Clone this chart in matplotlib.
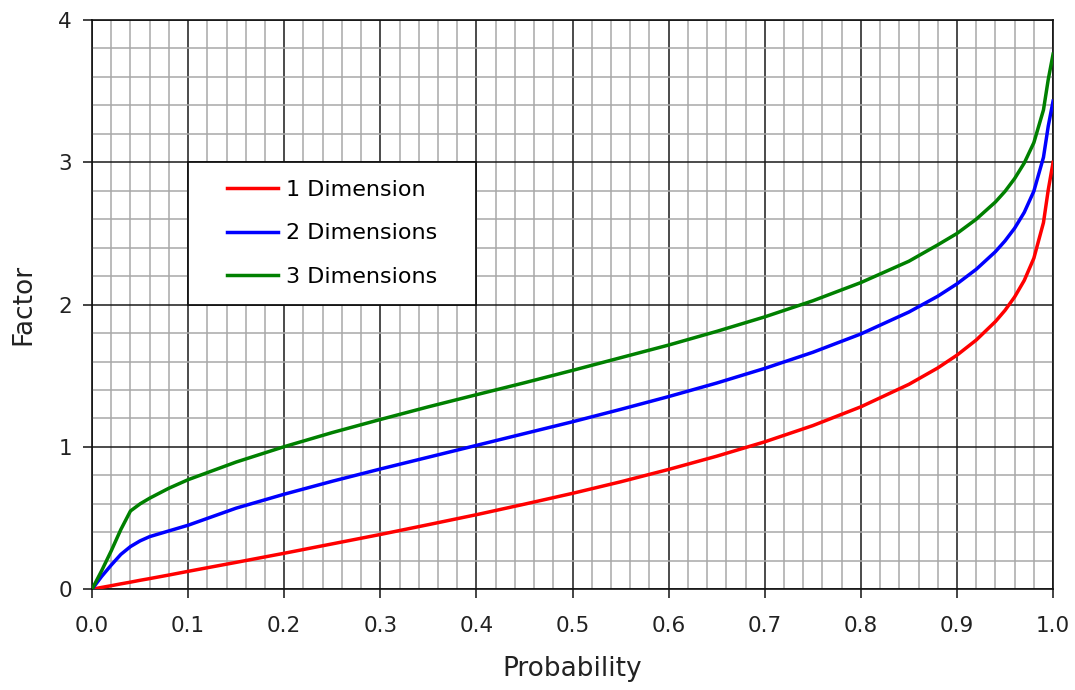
import numpy as np
import matplotlib.pyplot as plt
from matplotlib.patches import Rectangle
from matplotlib.ticker import MultipleLocator, FormatStrFormatter

plt.rcParams['font.family'] = ['DejaVu Sans']

# probability values along the x axis
prob = [0.0, 0.01, 0.02, 0.03, 0.04, 0.05, 0.06, 0.08, 0.10, 0.15, 0.20, 0.25,
        0.30, 0.35, 0.40, 0.45, 0.50, 0.55, 0.60, 0.65, 0.70, 0.75, 0.80, 0.85,
        0.88, 0.90, 0.92, 0.94, 0.95, 0.96, 0.97, 0.98, 0.99, 0.995, 1.0]

# factor for each dimension
factor_1d = [0.0, 0.013, 0.025, 0.038, 0.050, 0.063, 0.075, 0.100, 0.126, 0.189, 0.253, 0.319,
             0.385, 0.454, 0.524, 0.598, 0.674, 0.755, 0.842, 0.935, 1.036, 1.150, 1.282, 1.440,
             1.555, 1.645, 1.751, 1.881, 1.960, 2.054, 2.170, 2.326, 2.576, 2.807, 3.0]
factor_2d = [0.0, 0.09, 0.17, 0.245, 0.30, 0.34, 0.37, 0.41, 0.45, 0.570, 0.668, 0.759,
             0.845, 0.928, 1.011, 1.094, 1.177, 1.264, 1.354, 1.449, 1.552, 1.665, 1.794, 1.948,
             2.059, 2.146, 2.248, 2.372, 2.448, 2.537, 2.648, 2.797, 3.035, 3.255, 3.43]
factor_3d = [0.0, 0.13, 0.27, 0.42, 0.55, 0.60, 0.64, 0.71, 0.77, 0.894, 1.002, 1.101,
             1.193, 1.282, 1.367, 1.451, 1.538, 1.627, 1.716, 1.812, 1.914, 2.027, 2.155, 2.305,
             2.420, 2.500, 2.600, 2.721, 2.796, 2.886, 2.995, 3.138, 3.368, 3.583, 3.76]

labels = ['1 Dimension', '2 Dimensions', '3 Dimensions']
colors = ['#ff0000', '#0000ff', '#008000']

fig = plt.figure(figsize=(10.75, 6.9), dpi=100)
ax = fig.add_axes([0.0856, 0.146, 0.894, 0.825])

handles = []
for y, lab, c in zip([factor_1d, factor_2d, factor_3d], labels, colors):
    h, = ax.plot(prob, y, color=c, lw=2.5, label=lab, zorder=3)
    handles.append(h)

ax.set_xlim(0, 1)
ax.set_ylim(0, 4)
ax.xaxis.set_major_locator(MultipleLocator(0.1))
ax.xaxis.set_minor_locator(MultipleLocator(0.02))
ax.yaxis.set_major_locator(MultipleLocator(1))
ax.yaxis.set_minor_locator(MultipleLocator(0.2))
ax.xaxis.set_major_formatter(FormatStrFormatter('%.1f'))

ax.grid(which='minor', color='#a8a8a8', lw=1.1, zorder=0)
ax.grid(which='major', color='#1a1a1a', lw=1.1, zorder=1)
ax.set_axisbelow(True)

for s in ax.spines.values():
    s.set_color('#111111')
    s.set_linewidth(1.2)

ax.tick_params(which='major', direction='out', length=6.5, width=1.1,
               color='#111111', labelsize=15.5, labelcolor='#222222')
ax.tick_params(axis='x', which='major', pad=13)
ax.tick_params(axis='y', which='major', pad=8)
ax.tick_params(which='minor', length=0)

ax.set_xlabel('Probability', fontsize=19, color='#222222', labelpad=14)
ax.set_ylabel('Factor', fontsize=19, color='#222222', labelpad=16)

# legend box sitting on the grid
ax.add_patch(Rectangle((0.1, 2.0), 0.3, 1.0, facecolor='white', edgecolor='#111111',
                       lw=1.3, zorder=4))
leg = ax.legend(handles=handles, loc='center', bbox_to_anchor=(0.25, 2.5),
                bbox_transform=ax.transData, frameon=False, fontsize=16,
                handlelength=2.3, handletextpad=0.35, labelspacing=1.05)
leg.set_zorder(5)

fig.savefig('out.png', dpi=100)
